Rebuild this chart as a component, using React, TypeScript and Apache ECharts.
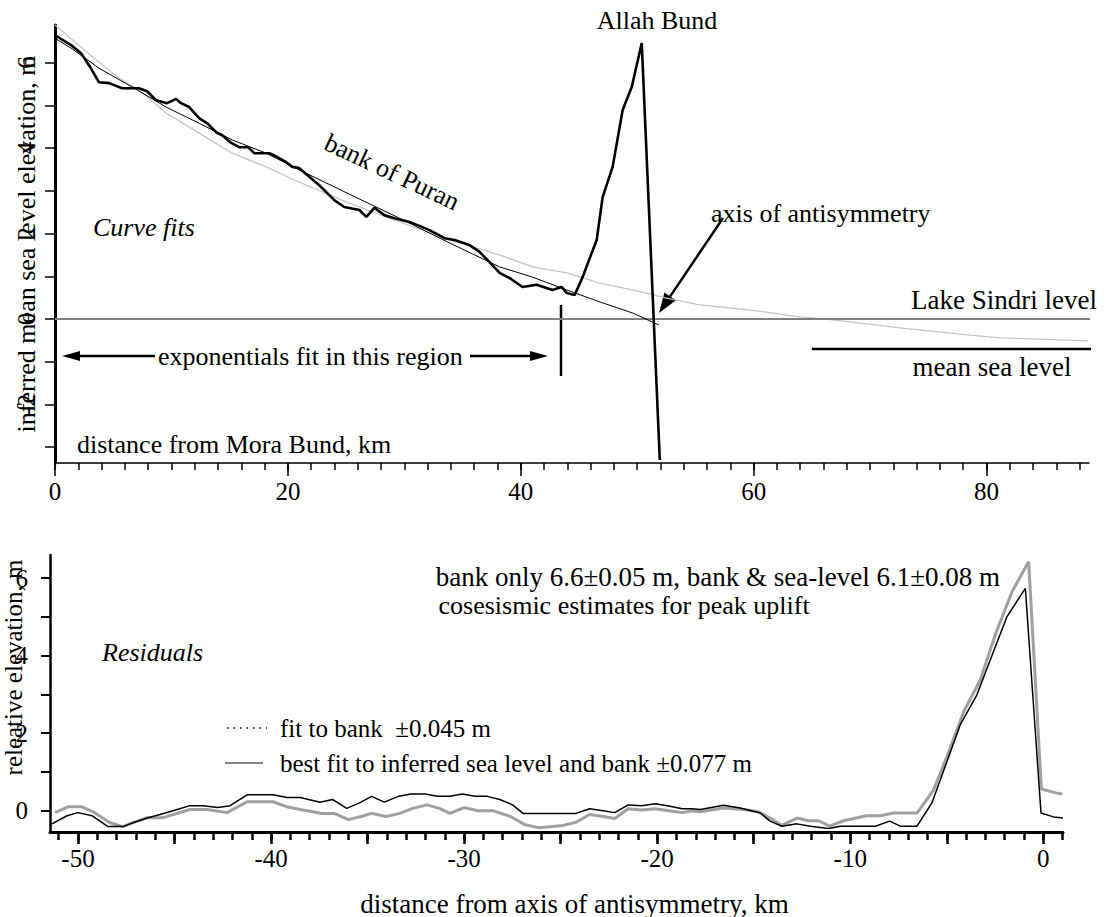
import React, { useEffect, useRef } from "react";
import * as echarts from "echarts";

const FONT = '"Liberation Serif", "Times New Roman", "DejaVu Serif", serif';

// ---------- Top panel: curve fits (distance from Mora Bund, km / elevation, m)
const profileKm = [0, 1.38, 2.24, 2.92, 3.78, 4.64, 5.76, 7.22, 7.91, 8.68, 9.63, 10.4, 10.83, 11.52, 12.38, 13.07, 13.84, 14.36, 15.13, 15.82, 16.6, 17.11, 18.4, 19.09, 19.86, 20.38, 20.98, 22.7, 23.99, 24.85, 26.14, 26.74, 27.43, 28.29, 29.15, 30.44, 31.3, 32.16, 33.45, 34.31, 35.6, 36.46, 37.32, 38.18, 39.04, 40.15, 41.36, 42.73, 43.51, 43.94, 44.63, 45.31, 46.52, 47.03, 47.89, 48.75, 49.53, 50.39, 51.94];
const profileElev = [6.64, 6.41, 6.22, 5.94, 5.54, 5.52, 5.4, 5.4, 5.33, 5.12, 5.05, 5.15, 5.05, 4.96, 4.7, 4.58, 4.37, 4.3, 4.12, 4.02, 4.02, 3.88, 3.88, 3.79, 3.67, 3.56, 3.53, 3.13, 2.78, 2.62, 2.55, 2.39, 2.6, 2.43, 2.36, 2.27, 2.18, 2.08, 1.89, 1.85, 1.73, 1.57, 1.33, 1.08, 0.96, 0.75, 0.8, 0.68, 0.75, 0.61, 0.56, 0.98, 1.85, 2.85, 3.56, 4.89, 5.43, 6.46, -3.3];

const fitKm = [0, 1.38, 3.78, 6.62, 9.54, 12.38, 15.22, 18.14, 20.98, 25.28, 29.58, 33.88, 38.18, 41.01, 43.94, 46.78, 49.61, 51.85];
const fitElev = [6.57, 6.34, 5.87, 5.43, 4.96, 4.58, 4.19, 3.88, 3.49, 2.92, 2.36, 1.78, 1.22, 0.98, 0.68, 0.4, 0.14, -0.14];

const seaKm = [0, 1.81, 3.78, 5.5, 7.22, 9.54, 12.38, 15.22, 18.14, 20.98, 25.28, 29.58, 33.88, 38.18, 41.01, 43.94, 46.78, 49.61, 52.54, 55.37, 59.67, 63.97, 66.81, 72.57, 78.33, 81.17, 88.74];
const seaElev = [6.88, 6.46, 6.01, 5.64, 5.36, 4.82, 4.35, 3.88, 3.56, 3.2, 2.71, 2.27, 1.85, 1.5, 1.22, 1.08, 0.84, 0.68, 0.49, 0.33, 0.21, 0.05, -0.02, -0.21, -0.37, -0.44, -0.51];

const lakeKm = [0, 90.2];
const lakeElev = [0, 0];
const mslKm = [65.0, 90.8];
const mslElev = [-0.7, -0.7];

const topXLabels = [0, 20, 40, 60, 80];
const topXMinor = [0, 2, 4, 6, 8, 10, 12, 14, 16, 18, 20, 22, 24, 26, 28, 30, 32, 34, 36, 38, 40, 42, 44, 46, 48, 50, 52, 54, 56, 58, 60, 62, 64, 66, 68, 70, 72, 74, 76, 78, 80, 82, 84, 86, 88];
const topYTicks = [-3, -2, -1, 0, 1, 2, 3, 4, 5, 6];
const topYLabels = [-2, 0, 2, 4, 6];

// ---------- Bottom panel: residuals (distance from axis of antisymmetry, km / m)
const bankKm = [-51.19, -50.52, -49.79, -49.22, -48.34, -47.67, -47.15, -46.42, -45.6, -45.08, -44.2, -43.32, -42.28, -41.24, -39.9, -39.17, -38.5, -38.11, -37.37, -36.73, -35.99, -35.34, -34.79, -34.05, -33.32, -32.67, -31.93, -31.28, -30.74, -30.0, -29.26, -28.52, -27.6, -26.86, -26.12, -24.87, -24.2, -23.5, -22.8, -22.2, -21.5, -20.8, -20.1, -19.4, -18.7, -18.2, -17.77, -16.56, -15.53, -14.75, -14.15, -13.54, -12.76, -12.16, -11.64, -11.07, -10.35, -9.15, -8.45, -7.76, -6.54, -5.68, -4.99, -4.12, -3.26, -2.49, -1.62, -0.76, -0.1, 0.64, 0.98];
const bankRes = [-0.05, 0.1, 0.1, -0.03, -0.31, -0.41, -0.31, -0.18, -0.18, -0.1, 0.03, 0.03, -0.05, 0.23, 0.23, 0.1, 0.03, 0.0, -0.07, -0.07, -0.23, -0.15, -0.07, -0.15, -0.07, 0.06, 0.15, 0.06, -0.07, 0.08, 0.0, 0.0, -0.15, -0.36, -0.44, -0.38, -0.3, -0.1, -0.15, -0.2, 0.05, 0.02, 0.05, 0.0, -0.05, 0.0, -0.03, 0.07, 0.03, -0.03, -0.19, -0.38, -0.19, -0.26, -0.26, -0.4, -0.26, -0.13, -0.13, -0.06, -0.06, 0.54, 1.4, 2.56, 3.38, 4.54, 5.65, 6.43, 0.56, 0.46, 0.43];

const bestKm = [-51.35, -50.57, -50.0, -49.27, -48.45, -47.67, -47.15, -46.37, -45.75, -45.08, -44.2, -43.52, -42.75, -42.12, -41.24, -39.9, -39.17, -38.5, -37.46, -36.82, -36.08, -35.34, -34.79, -34.14, -33.4, -32.76, -32.02, -31.37, -30.74, -30.09, -29.44, -28.8, -28.15, -27.49, -26.95, -24.87, -24.2, -23.5, -22.8, -22.2, -21.5, -20.8, -20.1, -19.4, -18.7, -18.2, -17.77, -16.56, -15.7, -14.66, -14.15, -13.54, -12.76, -12.07, -11.12, -10.52, -8.7, -7.96, -7.41, -6.54, -5.77, -4.99, -4.3, -3.44, -2.58, -1.88, -0.93, -0.12, 0.53, 1.02];
const bestRes = [-0.34, -0.13, -0.05, -0.13, -0.41, -0.41, -0.31, -0.18, -0.1, 0.0, 0.13, 0.13, 0.08, 0.13, 0.41, 0.41, 0.34, 0.34, 0.22, 0.29, 0.06, 0.22, 0.37, 0.22, 0.37, 0.43, 0.43, 0.37, 0.37, 0.43, 0.37, 0.37, 0.29, 0.15, -0.07, -0.07, -0.07, 0.05, 0.0, -0.05, 0.15, 0.13, 0.18, 0.12, 0.05, 0.05, 0.03, 0.14, 0.07, -0.06, -0.27, -0.4, -0.34, -0.4, -0.46, -0.4, -0.4, -0.27, -0.4, -0.4, 0.2, 1.27, 2.22, 2.99, 4.11, 5.01, 5.74, -0.06, -0.16, -0.19];

const botXLabels = [-50, -40, -30, -20, -10, 0];
const botXMid = [-50, -45, -40, -35, -30, -25, -20, -15, -10, -5, 0];
const botXMinor = [-51, -50, -49, -48, -47, -46, -45, -44, -43, -42, -41, -40, -39, -38, -37, -36, -35, -34, -33, -32, -31, -30, -29, -28, -27, -26, -25, -24, -23, -22, -21, -20, -19, -18, -17, -16, -15, -14, -13, -12, -11, -10, -9, -8, -7, -6, -5, -4, -3, -2, -1, 0, 1];
const botYTicks = [0, 1, 2, 3, 4, 5, 6];
const botYLabels = [0, 2, 4, 6];

const zip = (a: number[], b: number[]) => a.map((v, i) => [v, b[i]]);

const txt = (text: string, x: number, y: number, extra: any = {}) => ({
  type: "text",
  x,
  y,
  rotation: extra.rotation || 0,
  style: {
    text,
    fill: "#000",
    fontSize: extra.fontSize || 26,
    fontFamily: FONT,
    fontStyle: extra.italic ? "italic" : "normal",
    align: extra.align || "left",
    verticalAlign: "middle",
  },
});

const seg = (x1: number, y1: number, x2: number, y2: number, w: number, extra: any = {}) => ({
  type: "line",
  shape: { x1, y1, x2, y2 },
  style: { stroke: "#000", lineWidth: w, ...extra },
});

const head = (pts: number[][]) => ({
  type: "polygon",
  shape: { points: pts },
  style: { fill: "#000" },
});

export default function App() {
  const ref = useRef<HTMLDivElement>(null);
  useEffect(() => {
    if (!ref.current) return;
    const chart = echarts.init(ref.current, undefined, { renderer: "svg" });
    const labelStyle = { color: "#000", fontSize: 25, fontFamily: FONT };
    const option: any = {
      animation: false,
      backgroundColor: "#fff",
      grid: [
        { left: 55, top: 25, width: 1034, height: 438, containLabel: false, outerBoundsMode: "none" },
        { left: 50, top: 555, width: 1013, height: 277, containLabel: false, outerBoundsMode: "none" },
      ],
      xAxis: [
        {
          type: "value", gridIndex: 0, position: "bottom", min: 0, max: 88.8,
          axisLine: { onZero: false, lineStyle: { color: "#000", width: 1.5 } },
          axisTick: { customValues: topXMinor, length: 7, lineStyle: { color: "#000", width: 1.5 } },
          axisLabel: { customValues: topXLabels, margin: 16, ...labelStyle },
          splitLine: { show: false },
        },
        {
          type: "value", gridIndex: 0, position: "bottom", min: 0, max: 88.8,
          axisLine: { show: false, onZero: false },
          axisTick: { customValues: topXLabels, length: 13, lineStyle: { color: "#000", width: 1.5 } },
          axisLabel: { show: false },
          splitLine: { show: false },
        },
        {
          type: "value", gridIndex: 1, position: "bottom", min: -51.45, max: 1.02,
          name: "distance from axis of antisymmetry, km", nameLocation: "middle", nameGap: 58, nameMoveOverlap: false,
          nameTextStyle: { color: "#000", fontSize: 27, fontFamily: FONT, padding: [0, 0, 0, 36] },
          axisLine: { onZero: false, lineStyle: { color: "#000", width: 3 } },
          axisTick: { customValues: botXMinor, length: 8, lineStyle: { color: "#000", width: 2.5 } },
          axisLabel: { customValues: botXLabels, margin: 14, ...labelStyle },
          splitLine: { show: false },
        },
        {
          type: "value", gridIndex: 1, position: "bottom", min: -51.45, max: 1.02,
          axisLine: { show: false, onZero: false },
          axisTick: { customValues: botXMid, length: 12, lineStyle: { color: "#000", width: 2.5 } },
          axisLabel: { show: false },
          splitLine: { show: false },
        },
      ],
      yAxis: [
        {
          type: "value", gridIndex: 0, min: -3.37, max: 6.88,
          name: "inferred mean sea level elevation, m", nameLocation: "middle", nameGap: 16, nameRotate: 90, nameMoveOverlap: false,
          nameTextStyle: { color: "#000", fontSize: 26, fontFamily: FONT },
          axisLine: { onZero: false, lineStyle: { color: "#000", width: 3 } },
          axisTick: { customValues: topYTicks, length: 10, lineStyle: { color: "#000", width: 1.5 } },
          axisLabel: { customValues: topYLabels, rotate: 90, margin: 16, ...labelStyle },
          splitLine: { show: false },
        },
        {
          type: "value", gridIndex: 1, min: -0.55, max: 6.6,
          name: "releative elevation, m", nameLocation: "middle", nameGap: 24, nameRotate: 90, nameMoveOverlap: false,
          nameTextStyle: { color: "#000", fontSize: 25, fontFamily: FONT, padding: [0, 0, 0, 52] },
          axisLine: { onZero: false, lineStyle: { color: "#000", width: 2.5 } },
          axisTick: { customValues: botYTicks, length: 9, lineStyle: { color: "#000", width: 2 } },
          axisLabel: { customValues: botYLabels, margin: 22, ...labelStyle },
          splitLine: { show: false },
        },
      ],
      series: [
        {
          name: "inferred sea level", type: "line", xAxisIndex: 0, yAxisIndex: 0, data: zip(seaKm, seaElev),
          showSymbol: false, lineStyle: { color: "#c4c4c4", width: 1.3 }, z: 2,
        },
        {
          name: "Lake Sindri level", type: "line", xAxisIndex: 0, yAxisIndex: 0, data: zip(lakeKm, lakeElev),
          showSymbol: false, clip: false, lineStyle: { color: "#808080", width: 2 }, z: 2,
        },
        {
          name: "mean sea level", type: "line", xAxisIndex: 0, yAxisIndex: 0, data: zip(mslKm, mslElev),
          showSymbol: false, clip: false, lineStyle: { color: "#000", width: 2.5 }, z: 3,
        },
        {
          name: "exponential fit", type: "line", xAxisIndex: 0, yAxisIndex: 0, data: zip(fitKm, fitElev),
          showSymbol: false, lineStyle: { color: "#000", width: 1 }, z: 3,
        },
        {
          name: "bank of Puran", type: "line", xAxisIndex: 0, yAxisIndex: 0, data: zip(profileKm, profileElev),
          showSymbol: false, lineStyle: { color: "#000", width: 2.6 }, z: 4,
        },
        {
          name: "fit to bank", type: "line", xAxisIndex: 2, yAxisIndex: 1, data: zip(bankKm, bankRes),
          showSymbol: false, lineStyle: { color: "#a0a0a0", width: 3 }, z: 2,
        },
        {
          name: "best fit to inferred sea level and bank", type: "line", xAxisIndex: 2, yAxisIndex: 1, data: zip(bestKm, bestRes),
          showSymbol: false, lineStyle: { color: "#000", width: 1.5 }, z: 3,
        },
      ],
      graphic: [
        txt("Allah Bund", 657, 20, { align: "center" }),
        txt("bank of Puran", 392, 172, { align: "center", rotation: -0.44 }),
        txt("Curve fits", 93, 227, { italic: true }),
        txt("axis of antisymmetry", 711, 213),
        txt("Lake Sindri level", 1097, 300, { align: "right", fontSize: 27 }),
        txt("mean sea level", 992, 367, { align: "center", fontSize: 27 }),
        txt("exponentials fit in this region", 158, 356),
        txt("distance from Mora Bund, km", 77, 444),
        seg(723, 218, 670.2, 296.4, 2.5),
        head([[659, 313], [676.0, 300.3], [664.4, 292.5]]),
        seg(78, 356, 155, 356, 2.5),
        head([[62, 356], [80, 351], [80, 361]]),
        seg(470, 356, 532, 356, 2.5),
        head([[548, 356], [530, 351], [530, 361]]),
        seg(561, 305, 561, 376, 2.5),
        txt("bank only 6.6\u00b10.05 m, bank & sea-level 6.1\u00b10.08 m", 1000, 577, { align: "right", fontSize: 27 }),
        txt(" cosesismic estimates for peak uplift", 432, 605, { fontSize: 26 }),
        txt("Residuals", 102, 652, { italic: true }),
        seg(227, 728, 267, 728, 1.5, { lineDash: [1.5, 5] }),
        txt("fit to bank  \u00b10.045 m", 280, 728, { fontSize: 25 }),
        seg(225, 763, 263, 763, 1),
        txt("best fit to inferred sea level and bank \u00b10.077 m", 280, 763, { fontSize: 25 }),
      ],
    };
    chart.setOption(option);
    return () => chart.dispose();
  }, []);
  return (
    <div
      ref={ref}
      style={{ position: "absolute", left: 0, top: 0, width: 1112, height: 917, background: "#fff" }}
    />
  );
}
